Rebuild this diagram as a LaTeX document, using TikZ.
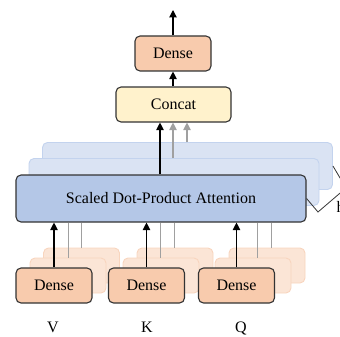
\documentclass[tikz,border=0pt]{standalone}
\usepackage{fontspec}
\setmainfont{Liberation Serif}
\usetikzlibrary{arrows.meta,calc}
\definecolor{denseC}{HTML}{F8CBAD}
\definecolor{denseB}{HTML}{FBE5D6}
\definecolor{denseBB}{HTML}{F8D5BE}
\definecolor{concatC}{HTML}{FFF2CC}
\definecolor{attC}{HTML}{B4C7E7}
\definecolor{attB}{HTML}{DAE3F3}
\definecolor{attBB}{HTML}{C3D3EE}
\definecolor{edgeC}{HTML}{333333}
\definecolor{grayline}{HTML}{A0A0A0}
\begin{document}
\begin{tikzpicture}[x=1pt,y=-1pt,
  every node/.style={font=\fontsize{16}{19}\selectfont, inner sep=0pt},
  box/.style={draw=edgeC, line width=1.1pt, rounded corners=5pt},
  densebox/.style={box, fill=denseC, minimum width=76pt, minimum height=35pt},
  densebg/.style={draw=denseBB, line width=0.9pt, rounded corners=5pt, fill=denseB, minimum width=76pt, minimum height=35pt},
  attbg/.style={draw=attBB, line width=0.9pt, rounded corners=5pt, fill=attB, minimum width=290pt, minimum height=47pt},
  arr/.style={line width=1.1pt, draw=black, -{Triangle[length=7.5pt,width=7.5pt]}},
  garr/.style={line width=1.1pt, draw=grayline, -{Triangle[length=7.5pt,width=7.5pt]}},
  gline/.style={line width=1pt, draw=grayline},
  lbl/.style={anchor=base}
]
\useasboundingbox (0,0) rectangle (340,337);
% attention back layers
\node[attbg] (att2) at (187.5,166) {};
\node[attbg] (att1) at (174,182) {};
% dense back layers
\node[densebg] (dv2) at (81.5,265.5) {};
\node[densebg] (dv1) at (68,275.5) {};
\node[densebg] (dk2) at (175,265.5) {};
\node[densebg] (dk1) at (161,275.5) {};
\node[densebg] (dq2) at (267,265.5) {};
\node[densebg] (dq1) at (253,275.5) {};
% front
\node[box, fill=attC, minimum width=290pt, minimum height=47pt] (att) at (161,198.5) {Scaled Dot-Product Attention};
\node[densebox] (dv) at (54,285.5) {Dense};
\node[densebox] (dk) at (146.5,285.5) {Dense};
\node[densebox] (dq) at (236.5,285.5) {Dense};
\node[box, fill=concatC, minimum width=115pt, minimum height=35pt] (concat) at (173.5,104.5) {Concat};
\node[densebox] (dtop) at (173,53.5) {Dense};
\coordinate (out) at (173,10);
% labels
\node[lbl] (lv) at (53,332) {V};
\node[lbl] (lk) at (147,332) {K};
\node[lbl] (lq) at (241,332) {Q};
\node[anchor=base west] (lh) at (336.5,212.5) {h};
% gray lines from back dense to attention
\draw[gline] (dv1.north) -- (dv1.north |- att.south);
\draw[gline] (dv2.north) -- (dv2.north |- att.south);
\draw[gline] (dk1.north -| 160,0) -- (160,0 |- att.south);
\draw[gline] (dk2.north -| 174,0) -- (174,0 |- att.south);
\draw[gline] (dq1.north -| 257,0) -- (257,0 |- att.south);
\draw[gline] (dq2.north -| 271,0) -- (271,0 |- att.south);
% black arrows from dense to attention
\draw[arr] (dv.north) -- (dv.north |- att.south);
\draw[arr] (dk.north) -- (dk.north |- att.south);
\draw[arr] (dq.north) -- (dq.north |- att.south);
% attention to concat
\draw[garr] (att1.north -| 173,0) -- (173,0 |- concat.south);
\draw[garr] (att2.north -| 187,0) -- (187,0 |- concat.south);
\draw[arr] (att.north -| 160,0) -- (160,0 |- concat.south);
% concat to dense, dense to out
\draw[arr] (concat.north -| dtop.south) -- (dtop.south);
\draw[arr] (dtop.north) -- (out);
% h bracket
\draw[line width=0.8pt, edgeC] (att.east) -- (318,212) -- (346,188) -- (att2.east);
\end{tikzpicture}
\end{document}
